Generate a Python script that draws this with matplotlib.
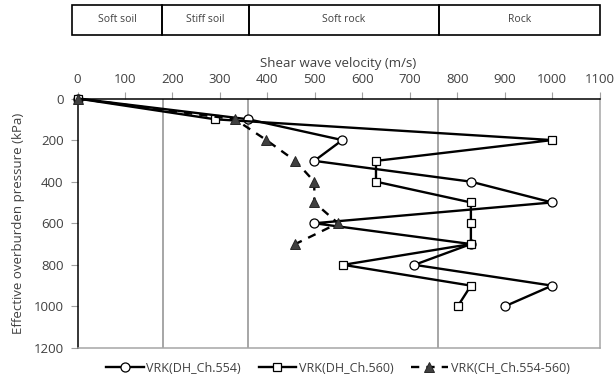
import matplotlib
matplotlib.use("Agg")
import matplotlib.pyplot as plt
from matplotlib.patches import Rectangle

plt.rcParams['font.family'] = ['Open Sans', 'DejaVu Sans']

# ---- data ----
depth_554 = [0, 100, 200, 300, 400, 500, 600, 700, 800, 900, 1000]
vs_554 = [0, 360, 558, 499, 829, 1000, 499, 829, 710, 1000, 900]

depth_560 = [0, 100, 200, 300, 400, 500, 600, 700, 800, 900, 1000]
vs_560 = [0, 290, 1000, 629, 629, 829, 829, 829, 560, 829, 801]

depth_ch = [0, 100, 200, 300, 400, 500, 600, 700]
vs_ch = [0, 332, 398, 459, 499, 499, 549, 459]

class_bounds = [180, 360, 760]
class_labels = ["Soft soil", "Stiff soil", "Soft rock", "Rock"]

labels = ["VRK(DH_Ch.554)", "VRK(DH_Ch.560)", "VRK(CH_Ch.554-560)"]

W, H = 616, 387
fig = plt.figure(figsize=(W / 100, H / 100), dpi=100)

L, R, T, B = 77.5, 599.5, 98.5, 348
ax = fig.add_axes([L / W, 1 - B / H, (R - L) / W, (B - T) / H])

for xv in class_bounds:
    ax.axvline(xv, color='#a6a6a6', lw=1.4, zorder=1)

lw = 1.7
ax.plot(vs_554, depth_554, color='black', lw=lw, marker='o', ms=6.5,
        mfc='white', mec='black', mew=0.9, label=labels[0], zorder=3, clip_on=False)
ax.plot(vs_560, depth_560, color='black', lw=lw, marker='s', ms=6,
        mfc='white', mec='black', mew=0.9, label=labels[1], zorder=3, clip_on=False)
ax.plot(vs_ch, depth_ch, color='black', lw=lw, ls=(0, (3.5, 3)), marker='^', ms=6.5,
        mfc='#404040', mec='#262626', mew=0.7, label=labels[2], zorder=4, clip_on=False)

ax.set_xlim(0, 1100)
ax.set_ylim(1200, 0)
ax.set_xticks(range(0, 1101, 100))
ax.set_yticks(range(0, 1201, 200))
ax.xaxis.tick_top()
ax.xaxis.set_label_position('top')
ax.tick_params(axis='x', direction='out', length=5, width=0.8, color='#a0a0a0',
               labelsize=9.5, pad=4, labelcolor='#404040')
ax.tick_params(axis='y', direction='out', length=5, width=0.8, color='#a0a0a0',
               labelsize=9.5, pad=5, labelcolor='#404040')
ax.set_xlabel("Shear wave velocity (m/s)", fontsize=9.5, color='#404040', labelpad=4)
ax.set_ylabel("Effective overburden pressure (kPa)", fontsize=9.5, color='#404040', labelpad=6)

for s in ['top', 'left']:
    ax.spines[s].set_color('black')
    ax.spines[s].set_linewidth(1.1)
for s in ['bottom', 'right']:
    ax.spines[s].set_color('#a6a6a6')
    ax.spines[s].set_linewidth(1.1)
ax.set_facecolor('none')

# classification boxes
bx = fig.add_axes([72 / W, 1 - 34.5 / H, (600 - 72) / W, (34.5 - 5) / H])
bx.set_xlim(0, 1)
bx.set_ylim(0, 1)
bx.axis('off')
px_edges = [72, 162.3, 249, 438.5, 600]
for i, lab in enumerate(class_labels):
    x0 = (px_edges[i] - 72) / (600 - 72)
    x1 = (px_edges[i + 1] - 72) / (600 - 72)
    bx.add_patch(Rectangle((x0, 0), x1 - x0, 1, fill=False, ec='black', lw=1.2,
                           clip_on=False))
    bx.text((x0 + x1) / 2, 0.5, lab, ha='center', va='center', fontsize=7.5,
            color='#404040')

leg = fig.legend(loc='center', bbox_to_anchor=(338 / W, 1 - 368 / H), ncol=3,
                 frameon=False, fontsize=9, handlelength=3.0, columnspacing=1.4,
                 handletextpad=0.2, labelcolor='#404040')

fig.savefig("out.png", dpi=100)
